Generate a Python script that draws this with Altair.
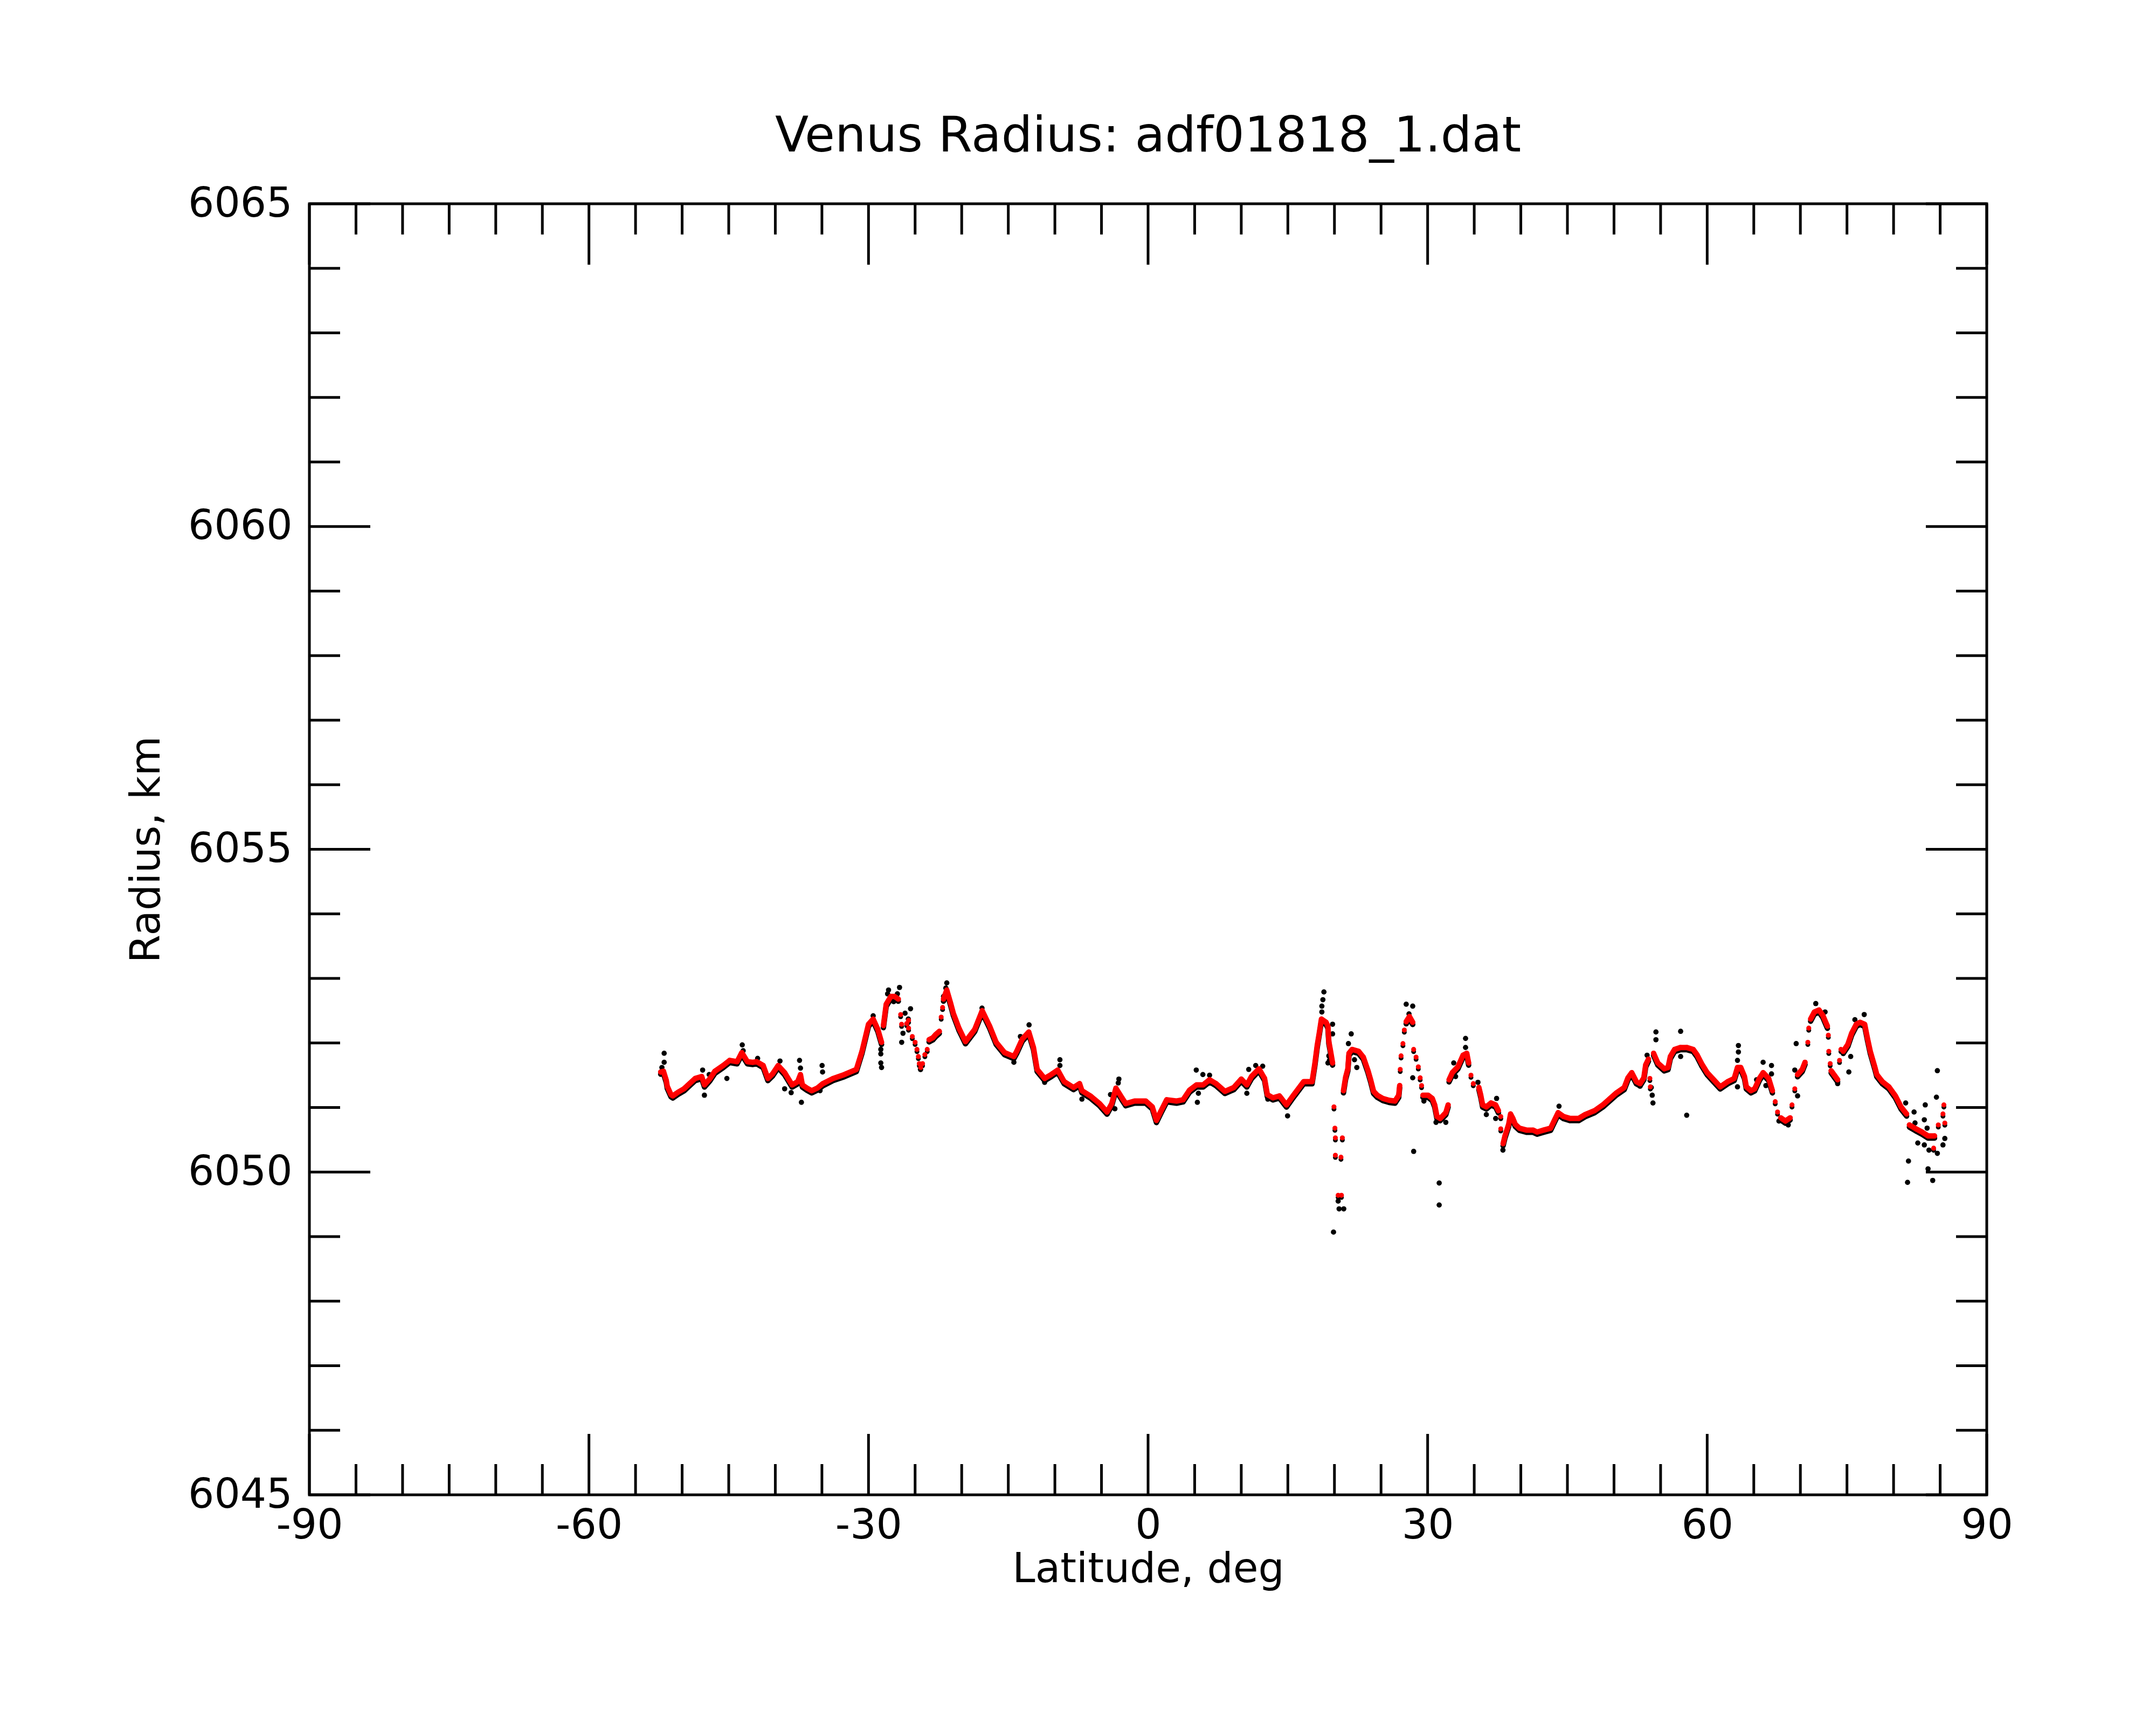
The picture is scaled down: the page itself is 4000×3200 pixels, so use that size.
import altair as alt
import pandas as pd

# ---------------- data ----------------
# smoothed (red) trace: latitude, radius, segment id (-1 = isolated dot)
red_lat = [
    -52.3, -52.0, -51.7, -51.6, -51.2, -51.0, -50.4, -49.8, -49.2, -48.6, -47.9, -47.6, -47.0, -46.5,
    -45.6, -44.9, -44.1, -43.6, -43.0, -42.4, -42.0, -41.3, -40.8, -40.3, -39.7, -39.0, -38.2, -37.6,
    -37.3, -37.1, -36.6, -36.1, -35.5, -34.9, -33.8, -32.6, -31.3, -30.7, -30.0, -29.5, -29.0, -28.6,
    -28.4, -28.1, -27.6, -27.2, -26.8,
    -26.55, -26.45, -25.9, -25.7, -25.7, -25.3, -25.0, -24.8, -24.65, -24.55, -24.4, -24.2, -23.95, -23.7,
    -23.5, -23.1, -22.8, -22.4,
    -22.2, -22.05,
    -21.95, -21.6, -21.2, -20.9, -20.3, -19.6, -18.6, -17.8, -17.0, -16.3, -15.4, -14.4, -14.1, -13.5,
    -12.8, -12.3, -11.9, -11.1, -10.4, -9.7, -9.0, -8.0, -7.35, -7.1, -6.2, -5.2, -4.4, -3.9, -3.45,
    -2.8, -2.4, -1.45, -0.25, 0.45, 0.9, 1.4, 2.0, 3.06, 3.76, 4.45, 5.2, 5.9, 6.6, 7.3, 8.24, 9.2,
    10.0, 10.6, 11.1, 11.9, 12.5, 12.8, 13.4, 14.1, 14.85, 15.55, 16.7, 17.6, 17.9, 18.15, 18.4, 18.6,
    19.1, 19.3, 19.4, 19.55, 19.8,
    19.95, 20.05, 20.1, 20.85, 20.1, 20.7, 20.4, 20.75,
    20.97, 21.2, 21.44, 21.56, 21.9, 22.6, 23.1, 23.6, 23.9, 24.2, 24.6, 25.2, 25.9, 26.5, 26.9, 27.0,
    27.06, 27.15, 27.35, 27.5,
    27.7, 28.05, 28.4,
    28.5, 28.76, 29.0, 29.2, 29.35,
    29.5, 30.05, 30.5, 30.76, 31.0, 31.35, 31.95, 32.2,
    32.3, 32.65, 33.25, 33.8, 34.2, 34.4,
    34.65, 34.9,
    35.5, 35.7, 35.9, 36.3, 36.8, 37.3, 37.6,
    37.85, 37.85,
    38.1, 38.3, 38.7, 38.9, 39.15, 39.4, 39.85, 40.6, 41.3, 41.75, 42.45, 43.2, 43.6, 44.0, 44.6, 45.3,
    46.2, 46.9, 47.9, 48.8, 49.5, 50.2, 51.1, 51.5, 51.9, 52.4, 52.8, 53.2, 53.4, 53.7,
    53.85, 53.9,
    54.25, 54.7, 55.4, 55.8, 56.05, 56.5, 57.15, 57.8, 58.5, 58.9, 59.4, 60.0, 60.7, 61.4, 62.2, 62.9,
    63.25, 63.6, 64.0, 64.2, 64.7, 65.1, 65.6, 66.0, 66.6, 67.0,
    67.3, 67.55,
    67.9, 68.4, 68.9,
    69.1, 69.4,
    69.7, 70.2, 70.5,
    70.8, 70.9,
    71.1, 71.5, 72.0, 72.4, 72.9,
    73.0, 73.05, 73.2,
    73.3, 73.75, 74.0,
    74.2, 74.35,
    74.6, 75.1, 75.5, 76.0, 76.4, 76.9, 77.2, 77.5, 78.0, 78.2, 78.8, 79.5, 80.2, 80.8, 81.4,
    81.7, 82.4, 83.05, 83.7, 84.4,
    84.3, 84.8, 85.3, 85.4, 85.5,
]
red_rad = [
    6051.55, 6051.56, 6051.42, 6051.33, 6051.20, 6051.18, 6051.24, 6051.29, 6051.37, 6051.45, 6051.48, 6051.35, 6051.45, 6051.56,
    6051.65, 6051.73, 6051.71, 6051.85, 6051.71, 6051.70, 6051.71, 6051.65, 6051.45, 6051.52, 6051.65, 6051.54, 6051.35, 6051.40,
    6051.51, 6051.35, 6051.30, 6051.26, 6051.30, 6051.37, 6051.45, 6051.51, 6051.59, 6051.87, 6052.29, 6052.37, 6052.21, 6052.01,
    6052.27, 6052.60, 6052.72, 6052.72, 6052.68,
    6052.44, 6052.29, 6052.30, 6052.35, 6052.23, 6052.10, 6052.01, 6051.90, 6051.79, 6051.68, 6051.62, 6051.68, 6051.82, 6051.90,
    6052.05, 6052.08, 6052.13, 6052.18,
    6052.40, 6052.55,
    6052.68, 6052.82, 6052.62, 6052.46, 6052.23, 6052.02, 6052.21, 6052.50, 6052.26, 6052.01, 6051.85, 6051.79, 6051.87, 6052.06,
    6052.17, 6051.93, 6051.59, 6051.45, 6051.51, 6051.58, 6051.40, 6051.31, 6051.37, 6051.26, 6051.18, 6051.06, 6050.93, 6051.06, 6051.30,
    6051.15, 6051.06, 6051.10, 6051.10, 6051.01, 6050.80, 6050.95, 6051.12, 6051.10, 6051.12, 6051.27, 6051.35, 6051.35, 6051.43, 6051.37, 6051.25, 6051.31,
    6051.44, 6051.35, 6051.48, 6051.60, 6051.45, 6051.20, 6051.15, 6051.18, 6051.04, 6051.18, 6051.40, 6051.40, 6051.68, 6051.96, 6052.18, 6052.37,
    6052.32, 6052.26, 6052.02, 6051.90, 6051.69,
    6051.01, 6050.68, 6050.53, 6050.53, 6050.26, 6050.23, 6049.64, 6049.64,
    6051.26, 6051.47, 6051.60, 6051.84, 6051.90, 6051.87, 6051.78, 6051.57, 6051.42, 6051.25, 6051.19, 6051.14, 6051.11, 6051.10, 6051.19, 6051.34,
    6051.59, 6051.80, 6051.99, 6052.20,
    6052.33, 6052.41, 6052.32,
    6051.90, 6051.78, 6051.63, 6051.46, 6051.34,
    6051.19, 6051.19, 6051.14, 6051.04, 6050.86, 6050.83, 6050.92, 6051.04,
    6051.43, 6051.54, 6051.63, 6051.81, 6051.84, 6051.69,
    6051.50, 6051.37,
    6051.31, 6051.19, 6051.04, 6051.01, 6051.07, 6051.04, 6050.95,
    6050.86, 6050.67,
    6050.44, 6050.56, 6050.74, 6050.90, 6050.83, 6050.74, 6050.68, 6050.65, 6050.65, 6050.62, 6050.65, 6050.68, 6050.80, 6050.92, 6050.86, 6050.83,
    6050.83, 6050.89, 6050.95, 6051.04, 6051.13, 6051.22, 6051.31, 6051.46, 6051.54, 6051.40, 6051.37, 6051.46, 6051.66, 6051.75,
    6051.45, 6051.32,
    6051.84, 6051.69, 6051.60, 6051.62, 6051.79, 6051.90, 6051.93, 6051.93, 6051.90, 6051.82, 6051.68, 6051.54, 6051.43, 6051.32, 6051.40, 6051.45,
    6051.62, 6051.62, 6051.48, 6051.32, 6051.26, 6051.29, 6051.45, 6051.54, 6051.45, 6051.26,
    6051.09, 6050.93,
    6050.84, 6050.79, 6050.84,
    6051.04, 6051.29,
    6051.51, 6051.59, 6051.70,
    6052.01, 6052.23,
    6052.37, 6052.48, 6052.51, 6052.43, 6052.26,
    6052.12, 6051.87, 6051.68,
    6051.57, 6051.48, 6051.43,
    6051.73, 6051.90,
    6051.87, 6051.98, 6052.15, 6052.29, 6052.32, 6052.29, 6052.07, 6051.87, 6051.62, 6051.51, 6051.40, 6051.32, 6051.18, 6051.01, 6050.90,
    6050.73, 6050.67, 6050.62, 6050.56, 6050.56,
    6050.37, 6050.73, 6050.90, 6051.04, 6050.76,
]
# (segment id, number of consecutive trace points)
red_runs = [
    (0, 42), (1, 5), (-1, 14), (2, 4), (-1, 2), (3, 67), (-1, 8), (4, 16), (-1, 4),
    (5, 3), (-1, 5), (6, 8), (7, 6), (-1, 2), (8, 7), (-1, 2), (9, 30), (-1, 2),
    (10, 26), (-1, 2), (11, 3), (-1, 2), (12, 3), (-1, 2), (13, 5), (-1, 3),
    (14, 3), (-1, 2), (15, 15), (16, 5), (-1, 5),
]
red_seg = [s for s, n in red_runs for _ in range(n)]

# raw (black) points standing off the trace
black_lat = [
    -51.93, -51.93, -52.17, -47.8, -47.61, -47.1, -45.2, -43.55, -43.45, -41.9, -39.5, -39.0, -37.4, -37.3,
    -37.2, -38.3, -34.98, -34.93, -35.2, -29.5, -28.68, -28.68, -28.68, -28.6, -27.85, -27.95, -26.67, -26.9,
    -27.3, -25.49, -26.08, -26.3, -26.44, -25.73, -24.43, -21.6, -21.7, -21.95, -17.82, -12.77, -13.7, -14.4,
    -11.1, -9.46, -9.46, -7.1, -3.13, -3.2, -4.03, -3.56, 5.17, 5.29, 5.4, 5.88, 6.6, 10.6, 10.8, 11.55,
    12.3, 14.97, 12.85, 18.87, 18.76, 18.65, 18.65, 19.8, 19.8, 19.46, 19.4, 19.3, 20.4, 20.5, 21.0, 19.9,
    21.5, 21.8, 22.15, 22.4, 27.7, 28.4, 28.0, 28.4, 28.5, 29.6, 30.9, 31.24, 31.24, 31.95, 32.8, 33.0,
    34.07, 34.07, 35.4, 36.3, 37.4, 37.3, 38.08, 44.1, 52.8, 53.55, 54.0, 54.1, 54.18, 54.5, 54.5, 57.15,
    57.15, 57.8, 63.35, 63.35, 63.25, 63.25, 65.3, 66.0, 66.9, 66.9, 66.3, 69.55, 69.4, 69.7, 68.7, 67.7,
    71.65, 72.65, 74.0, 75.4, 75.2, 76.85, 75.85, 81.3, 82.2, 84.7, 84.6, 83.4, 83.3, 81.6, 81.5, 83.7,
    84.2, 84.7, 85.3, 85.5, 82.6, 83.8, 82.3, 83.6, 83.3,
]
black_rad = [
    6051.84, 6051.70, 6051.62, 6051.58, 6051.19, 6051.51, 6051.45, 6051.97, 6051.88, 6051.76, 6051.72, 6051.29, 6051.73, 6051.61,
    6051.08, 6051.23, 6051.65, 6051.55, 6051.26, 6052.42, 6051.90, 6051.83, 6051.69, 6051.62, 6052.82, 6052.76, 6052.86, 6052.76,
    6052.64, 6052.53, 6052.46, 6052.15, 6052.01, 6052.37, 6051.59, 6052.93, 6052.85, 6052.72, 6052.54, 6052.28, 6052.10, 6051.70,
    6051.39, 6051.74, 6051.65, 6051.13, 6051.44, 6051.38, 6051.20, 6050.98, 6051.58, 6051.08, 6051.22, 6051.51, 6051.50, 6051.22, 6051.59, 6051.65,
    6051.64, 6050.87, 6051.13, 6052.79, 6052.67, 6052.57, 6052.48, 6052.29, 6052.14, 6051.73, 6051.80, 6051.69, 6049.55, 6049.43, 6049.43, 6049.07,
    6051.99, 6052.14, 6051.74, 6051.62, 6052.60, 6052.57, 6052.45, 6051.46, 6050.32, 6051.10, 6050.77, 6049.83, 6049.49, 6050.77, 6051.69, 6051.48,
    6052.07, 6051.93, 6051.39, 6050.89, 6051.14, 6050.83, 6050.34, 6051.02, 6051.33, 6051.81, 6051.31, 6051.19, 6051.07, 6052.17, 6052.05, 6052.18,
    6051.79, 6050.88, 6051.96, 6051.86, 6051.73, 6051.32, 6051.43, 6051.70, 6051.65, 6051.52, 6051.34, 6051.99, 6051.58, 6051.18, 6050.73, 6050.79,
    6052.61, 6052.48, 6051.37, 6051.79, 6051.55, 6052.44, 6052.36, 6051.07, 6050.93, 6051.57, 6051.16, 6051.04, 6050.81, 6050.17, 6049.84, 6050.05,
    6049.87, 6050.29, 6050.42, 6050.52, 6050.45, 6050.34, 6050.76, 6050.68, 6050.42,
]

x_major = [-90, -60, -30, 0, 30, 60, 90]
x_minor = [v for v in range(-85, 90, 5) if v % 30 != 0]
y_major = [6045, 6050, 6055, 6060, 6065]
y_minor = [v for v in range(6046, 6065) if v % 5 != 0]

TITLE = "Venus Radius: adf01818_1.dat"
XTITLE = "Latitude, deg"
YTITLE = "Radius, km"

# ---------------- chart ----------------
W, H = 3112, 2395
FONT = "DejaVu Sans"
MAJ, MIN, LW = 113, 57, 5

n = min(len(red_lat), len(red_rad), len(red_seg))
trace = pd.DataFrame({"lat": red_lat[:n], "rad": red_rad[:n], "seg": red_seg[:n]})
m = min(len(black_lat), len(black_rad))
raw = pd.DataFrame({"lat": black_lat[:m], "rad": black_rad[:m]})

xs = alt.Scale(domain=[-90, 90], nice=False, zero=False)
ys = alt.Scale(domain=[6045, 6065], nice=False, zero=False)

common = dict(labelFont=FONT, labelFontSize=76, labelColor="black", labelLimit=0,
              titleFont=FONT, titleFontSize=76, titleFontWeight="normal", titleColor="black",
              ticks=False, tickSize=0, domain=False, grid=False, labelFlush=False,
              labelOverlap=False, labelExpr="'' + datum.value")
x_axis = alt.Axis(values=x_major, title=XTITLE, labelPadding=20, titlePadding=6, **common)
y_axis = alt.Axis(values=y_major, title=YTITLE, labelPadding=32, titlePadding=63, **common)

base = alt.Chart(trace)
X = alt.X("lat:Q", scale=xs, axis=x_axis)
Y = alt.Y("rad:Q", scale=ys, axis=y_axis)

black_line = base.transform_filter("datum.seg >= 0").mark_line(
    color="black", strokeWidth=10, strokeCap="round", strokeJoin="round", yOffset=4
).encode(x=X, y=Y, detail="seg:N", order="lat:Q")
black_pts = base.mark_circle(color="black", size=80, opacity=1, yOffset=4).encode(x=X, y=Y)
raw_pts = alt.Chart(raw).mark_circle(color="black", size=95, opacity=1).encode(x=X, y=Y)
red_line = base.transform_filter("datum.seg >= 0").mark_line(
    color="#ff0000", strokeWidth=10, strokeCap="round", strokeJoin="round"
).encode(x=X, y=Y, detail="seg:N", order="lat:Q")
red_pts = base.mark_circle(color="#ff0000", size=85, opacity=1).encode(x=X, y=Y)


def xticks(vals, length, top):
    d = pd.DataFrame({"v": vals})
    y0, y1 = (0, length) if top else (H, H - length)
    return alt.Chart(d).mark_rule(color="black", strokeWidth=LW).encode(
        x=alt.X("v:Q", scale=xs, axis=x_axis), y=alt.value(y0), y2=alt.value(y1))


def yticks(vals, length, right):
    d = pd.DataFrame({"v": vals})
    x0, x1 = (W, W - length) if right else (0, length)
    return alt.Chart(d).mark_rule(color="black", strokeWidth=LW).encode(
        y=alt.Y("v:Q", scale=ys, axis=y_axis), x=alt.value(x0), x2=alt.value(x1))


ticks = [
    xticks(x_major, MAJ, False), xticks(x_minor, MIN, False),
    xticks(x_major, MAJ, True), xticks(x_minor, MIN, True),
    yticks(y_major, MAJ, False), yticks(y_minor, MIN, False),
    yticks(y_major, MAJ, True), yticks(y_minor, MIN, True),
]

chart = alt.layer(black_line, black_pts, raw_pts, red_line, red_pts, *ticks).properties(
    width=W, height=H,
    background="white",
    title=alt.TitleParams(TITLE, font=FONT, fontSize=91, fontWeight="normal", color="black",
                          anchor="middle", offset=40),
    autosize=alt.AutoSizeParams(type="none"),
    padding={"left": 566, "top": 370, "right": 306, "bottom": 419},
).configure_view(stroke="black", strokeWidth=LW, strokeOpacity=1)

chart.save("out.html", embed_options={"renderer": "svg", "actions": False})
